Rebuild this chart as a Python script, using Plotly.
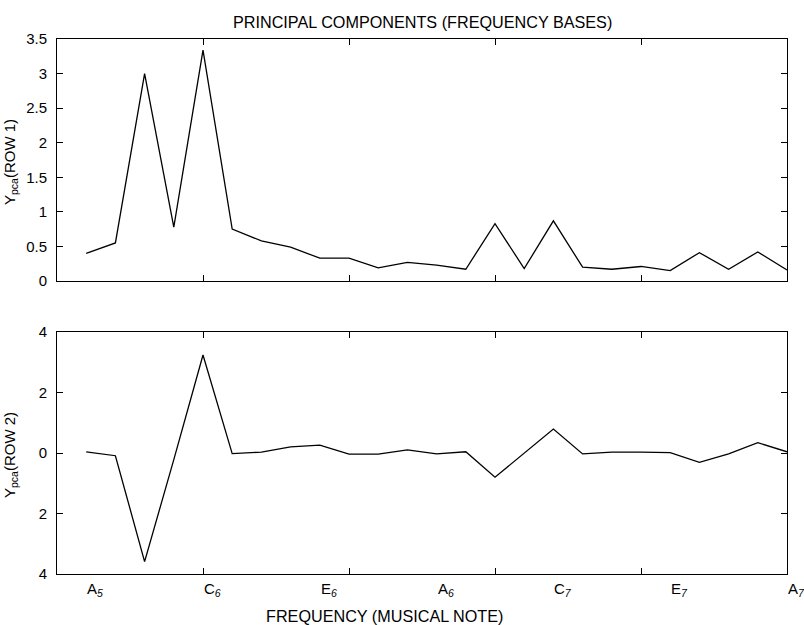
import plotly.graph_objects as go
from plotly.subplots import make_subplots

# sample index (semitone steps from A5 to A7)
x_index = list(range(1, 26))

row1 = [0.40, 0.55, 3.00, 0.78, 3.34, 0.75, 0.58, 0.49, 0.33, 0.33, 0.19, 0.27,
        0.23, 0.17, 0.83, 0.18, 0.87, 0.20, 0.17, 0.21, 0.15, 0.41, 0.17, 0.42, 0.16]
row2 = [0.04, -0.09, -3.59, -0.22, 3.24, -0.02, 0.03, 0.20, 0.26, -0.04, -0.04, 0.10,
        -0.03, 0.04, -0.80, -0.01, 0.79, -0.03, 0.03, 0.03, 0.01, -0.31, -0.03, 0.34, 0.04]

note_names = ["A", "C", "E", "A", "C", "E", "A"]
note_octaves = ["5", "6", "6", "6", "7", "7", "7"]
note_positions = [1, 5, 9, 13, 17, 21, 25]

row1_ticks = [0, 0.5, 1, 1.5, 2, 2.5, 3, 3.5]
row1_ticktext = ["0", "0.5", "1", "1.5", "2", "2.5", "3", "3.5"]
row2_ticks = [-4, -2, 0, 2, 4]
row2_ticktext = ["4", "2", "0", "2", "4"]
x_ticks = [0, 5, 10, 15, 20, 25]

FONT = "Liberation Sans, Arial, Helvetica, sans-serif"

W, H = 804, 625
L, R, T, B = 57, 17, 39, 51
pw, ph = W - L - R, H - T - B


def px_x(v):
    return (v - L) / pw


def px_y(v):
    return 1 - (v - T) / ph


top_h = 242 / ph
fig = make_subplots(rows=2, cols=1, vertical_spacing=1 - 2 * top_h)

fig.add_trace(go.Scatter(x=x_index, y=row1, mode="lines",
                         line=dict(color="black", width=1.3), showlegend=False), row=1, col=1)
fig.add_trace(go.Scatter(x=x_index, y=row2, mode="lines",
                         line=dict(color="black", width=1.3), showlegend=False), row=2, col=1)

common_x = dict(range=[0, 25], tickvals=x_ticks, ticks="inside", ticklen=6, tickcolor="black",
                showline=True, linecolor="black", linewidth=1, mirror="ticks",
                showgrid=False, zeroline=False, showticklabels=False)
fig.update_xaxes(**common_x, row=1, col=1)
fig.update_xaxes(**common_x, row=2, col=1)

common_y = dict(ticks="inside", ticklen=6, tickcolor="black", showline=True, linecolor="black",
                linewidth=1, mirror="ticks", showgrid=False, zeroline=False,
                ticklabelstandoff=6,
                tickfont=dict(family=FONT, size=15, color="black"))
fig.update_yaxes(**common_y, range=[0, 3.5], tickvals=row1_ticks, ticktext=row1_ticktext,
                 row=1, col=1)
fig.update_yaxes(**common_y, range=[-4, 4], tickvals=row2_ticks, ticktext=row2_ticktext,
                 row=2, col=1)

annotations = []
for name, octv, pos in zip(note_names, note_octaves, note_positions):
    annotations.append(dict(x=pos, y=px_y(578), xref="x2", yref="paper", xanchor="left",
                            yanchor="top", xshift=-1, showarrow=False,
                            text=f"{name}<sub><i>{octv}</i></sub>",
                            font=dict(family=FONT, size=15, color="black")))
annotations.append(dict(x=px_x(384), y=px_y(616), xref="paper", yref="paper", xanchor="center",
                        yanchor="middle", showarrow=False, text="FREQUENCY (MUSICAL NOTE)",
                        font=dict(family=FONT, size=16.2, color="black")))
annotations.append(dict(x=px_x(422), y=px_y(22), xref="paper", yref="paper", xanchor="center",
                        yanchor="middle", showarrow=False,
                        text="PRINCIPAL COMPONENTS (FREQUENCY BASES)",
                        font=dict(family=FONT, size=16.2, color="black")))
annotations.append(dict(x=px_x(10), y=px_y(162), xref="paper", yref="paper", showarrow=False,
                        xanchor="center", yanchor="middle",
                        text="Y<sub>pca</sub>(ROW 1)", textangle=-90,
                        font=dict(family=FONT, size=15, color="black")))
annotations.append(dict(x=px_x(10), y=px_y(455), xref="paper", yref="paper", showarrow=False,
                        xanchor="center", yanchor="middle",
                        text="Y<sub>pca</sub>(ROW 2)", textangle=-90,
                        font=dict(family=FONT, size=15, color="black")))

fig.update_layout(width=W, height=H, margin=dict(l=L, r=R, t=T, b=B),
                  paper_bgcolor="white", plot_bgcolor="white",
                  font=dict(family=FONT, size=15, color="black"),
                  annotations=annotations)

fig.write_html("out.html", config={"displayModeBar": False},
               post_script="document.body.style.margin='0';document.body.style.overflow='hidden';")
